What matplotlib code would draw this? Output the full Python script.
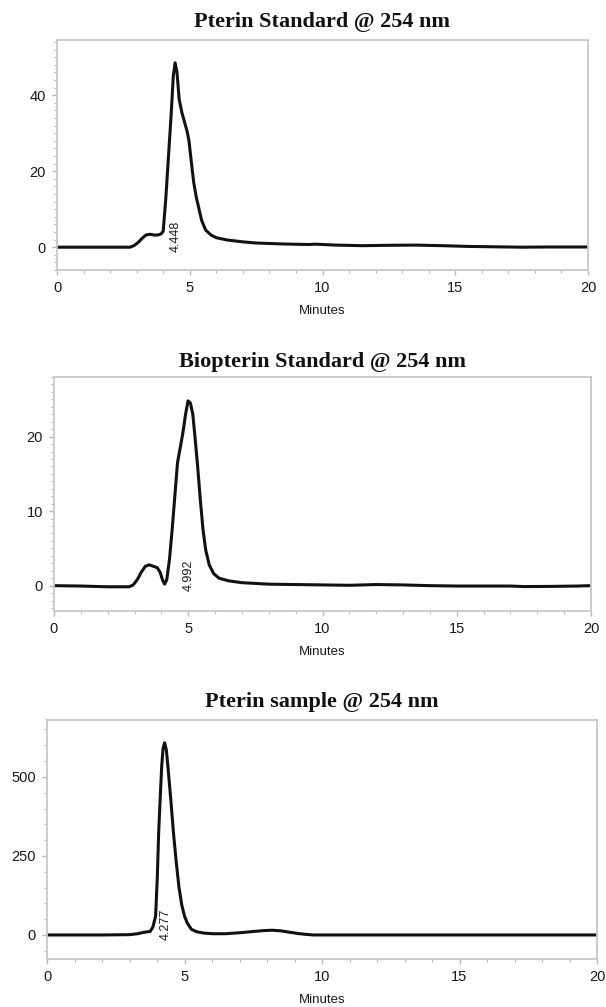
import numpy as np
import matplotlib
matplotlib.use("Agg")
import matplotlib.pyplot as plt
from matplotlib.ticker import MultipleLocator

# chromatograms read at 254 nm (minutes, mAU)
titles = ["Pterin Standard @ 254 nm",
          "Biopterin Standard @ 254 nm",
          "Pterin sample @ 254 nm"]
peak_labels = ["4.448", "4.992", "4.277"]
peak_times = [4.448, 4.992, 4.277]

t1 = [0, 2.75, 2.9, 3.05, 3.2, 3.35, 3.5, 3.65, 3.8, 3.92, 4.0, 4.1, 4.2, 4.3,
      4.38, 4.448, 4.52, 4.6, 4.7, 4.8, 4.9, 4.97, 5.05, 5.15, 5.25, 5.35, 5.45,
      5.6, 5.8, 6.0, 6.4, 7.0, 7.5, 8.5, 9.5, 9.7, 10.5, 11.5, 12.5, 13.5, 14.5,
      15.5, 16.5, 17.5, 18.5, 20]
v1 = [0, 0, 0.4, 1.2, 2.3, 3.2, 3.4, 3.2, 3.2, 3.5, 4.2, 13, 24, 35,
      45, 48.5, 46, 39, 35.5, 33, 30.5, 28, 23, 17, 13, 10, 7,
      4.5, 3.2, 2.5, 1.9, 1.4, 1.1, 0.85, 0.7, 0.8, 0.55, 0.4, 0.5, 0.55, 0.4,
      0.2, 0.1, 0.0, 0.05, 0.05]

t2 = [0, 1, 2, 2.8, 2.95, 3.1, 3.25, 3.4, 3.55, 3.7, 3.85, 3.95, 4.05, 4.12,
      4.2, 4.3, 4.4, 4.5, 4.6, 4.7, 4.8, 4.9, 4.992, 5.08, 5.17, 5.25, 5.35,
      5.45, 5.55, 5.65, 5.78, 5.95, 6.15, 6.5, 7.0, 8.0, 9.0, 10.0, 11.0, 12.0,
      13.0, 14.0, 15.0, 16.0, 17.0, 17.5, 18.5, 19.5, 20]
v2 = [0, -0.05, -0.15, -0.15, 0.1, 0.8, 1.8, 2.6, 2.8, 2.6, 2.4, 1.8, 0.7, 0.2,
      0.8, 3.5, 7.5, 12, 16.5, 18.5, 20.5, 23, 24.8, 24.5, 23, 20, 16,
      11.5, 7.5, 4.8, 2.8, 1.6, 1.0, 0.65, 0.4, 0.2, 0.15, 0.1, 0.05, 0.15,
      0.1, 0.0, -0.05, -0.05, -0.05, -0.12, -0.1, -0.05, 0]

t3 = [0, 2, 3.0, 3.3, 3.5, 3.65, 3.75, 3.85, 3.95, 4.01, 4.06, 4.12, 4.17, 4.22,
      4.277, 4.34, 4.4, 4.5, 4.6, 4.7, 4.8, 4.9, 5.0, 5.1, 5.25, 5.45, 5.7, 6.0,
      6.5, 7.0, 7.5, 7.9, 8.2, 8.5, 8.8, 9.1, 9.4, 9.7, 11, 14, 17, 20]
v3 = [0, 0, 1, 4, 8, 10, 11, 25, 60, 180, 322, 440, 532, 590,
      608, 585, 530, 430, 322, 230, 150, 95, 60, 38, 18, 10, 6, 4,
      4, 7, 11, 14, 15, 13, 9, 5, 2, 0, 0, 0, 0, 0]

traces = [(t1, v1), (t2, v2), (t3, v3)]
ylims = [(-6, 54.5), (-3.4, 28), (-76, 680)]
ymajor = [20, 10, 250]
yminor = [2, 1, 50]

W, H = 606, 1007
# axes boxes in pixels: left, right, top, bottom
boxes = [(57, 588, 40, 270), (54, 591, 377, 611), (47, 597, 720, 959)]
title_y = [22, 362, 702]

plt.rcParams['font.family'] = ['Liberation Sans', 'DejaVu Sans']
fig = plt.figure(figsize=(W / 100, H / 100), dpi=100)
fig.patch.set_facecolor('white')

for i in range(3):
    l, r, top, bot = boxes[i]
    ax = fig.add_axes([l / W, 1 - bot / H, (r - l) / W, (bot - top) / H])
    t, v = traces[i]
    ax.plot(t, v, color='#111111', lw=2.2, solid_joinstyle='round')
    ax.set_xlim(0, 20)
    ax.set_ylim(*ylims[i])
    ax.xaxis.set_major_locator(MultipleLocator(5))
    ax.xaxis.set_minor_locator(MultipleLocator(1))
    ax.yaxis.set_major_locator(MultipleLocator(ymajor[i]))
    ax.yaxis.set_minor_locator(MultipleLocator(yminor[i]))
    for s in ax.spines.values():
        s.set_color('#c8c8c8')
        s.set_linewidth(1.3)
    ax.tick_params(which='both', direction='out', color='#b8b8b8',
                   labelcolor='#1a1a1a', labelsize=10.5)
    ax.tick_params(which='major', length=3.5, width=1, pad=4.5)
    ax.tick_params(which='minor', length=2, width=0.8)
    ax.set_xlabel("Minutes", fontsize=9.5, color='#1a1a1a', labelpad=7)
    ax.text(peak_times[i] + 0.03, ylims[i][0] * 0.2, peak_labels[i],
            rotation=90, ha='center', va='bottom', fontsize=9,
            color='#1a1a1a')
    fig.text((l + r) / 2 / W, 1 - title_y[i] / H, titles[i],
             ha='center', va='center', fontsize=16,
             fontweight='bold', family='Liberation Serif', color='#111111')

fig.savefig("out.png", dpi=100, facecolor='white')
